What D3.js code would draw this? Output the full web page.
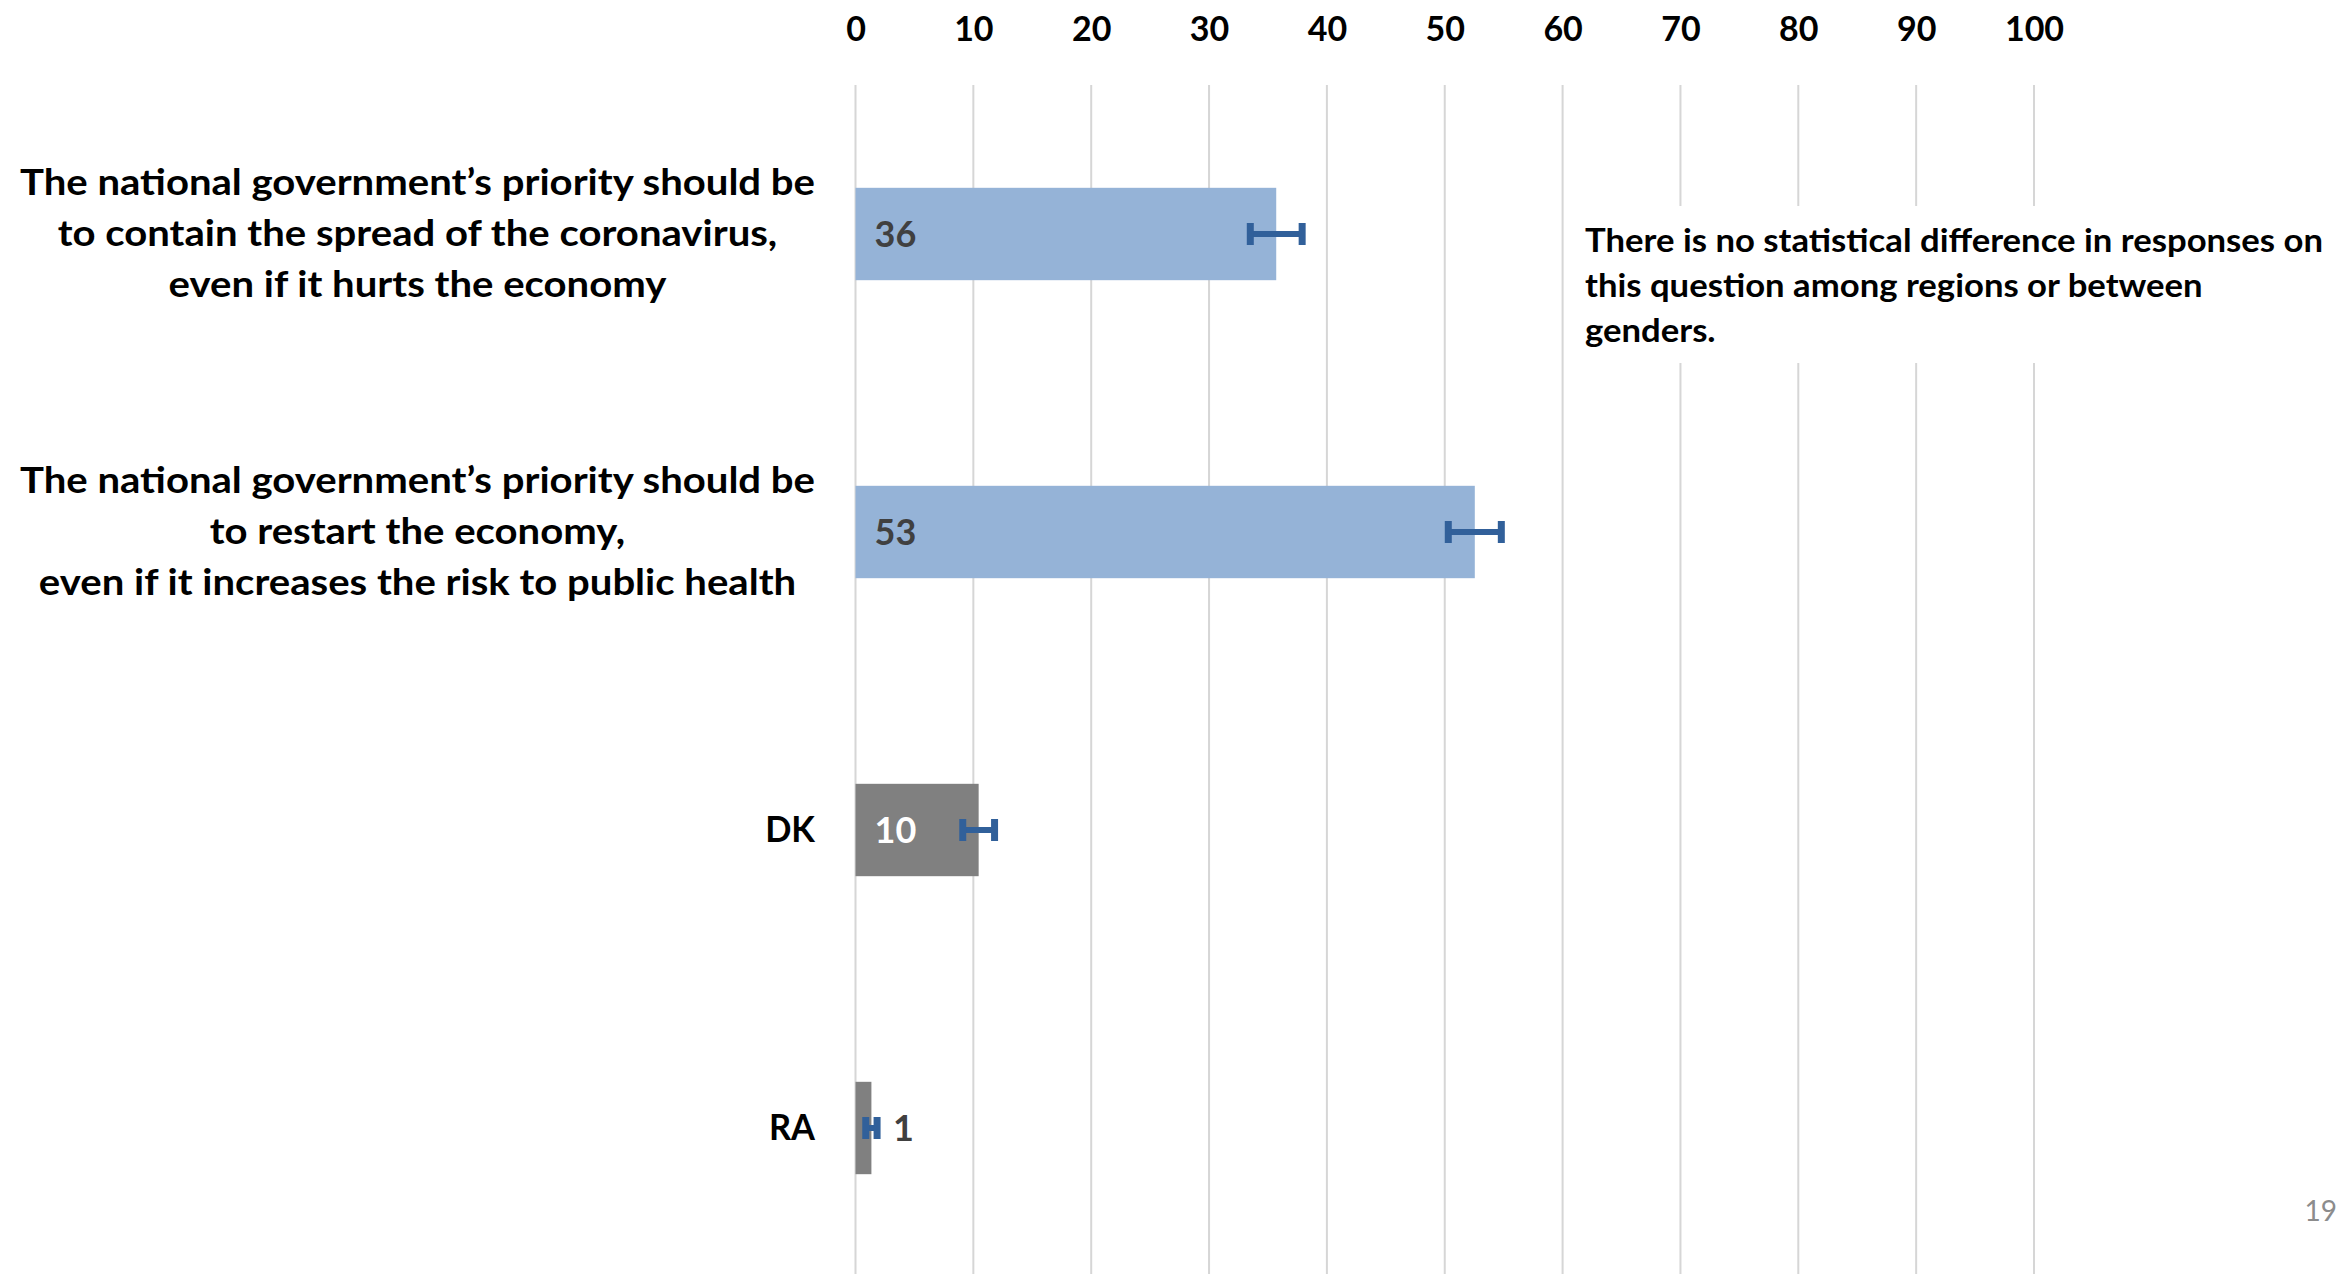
<!DOCTYPE html>
<html><head><meta charset="utf-8">
<script src="https://cdn.jsdelivr.net/npm/d3@7"></script>
<style>
html,body{margin:0;padding:0;background:#fff;}
svg{display:block;font-family:Lato,"Open Sans",sans-serif;}
</style>
</head><body>
<svg id="chart"></svg>
<script>
// ---------------- data ----------------
const categories = ["contain", "restart", "DK", "RA"];
const categoryLabels = [
  ["The national government’s priority should be", "to contain the spread of the coronavirus,", "even if it hurts the economy"],
  ["The national government’s priority should be", "to restart the economy,", "even if it increases the risk to public health"],
  ["DK"],
  ["RA"]
];
const values = [35.7, 52.55, 10.45, 1.35];
const valueLabels = ["36", "53", "10", "1"];
const errors = [2.2, 2.25, 1.35, 0.48];
const groups = ["answer", "answer", "other", "other"];
const xTicks = [0, 10, 20, 30, 40, 50, 60, 70, 80, 90, 100];
const noteLines = [
  "There is no statistical difference in responses on",
  "this question among regions or between",
  "genders."
];
const pageNumber = "19";

// ---------------- layout ----------------
const W = 2351, H = 1274;
const svg = d3.select("#chart").attr("width", W).attr("height", H);
svg.append("rect").attr("width", W).attr("height", H).attr("fill", "#fff");

const x = d3.scaleLinear().domain([0, 100]).range([855.5, 2034]);
const y = d3.scaleBand().domain(categories).range([85, 1277]).paddingInner(0.69).paddingOuter(0.345);
const color = d3.scaleOrdinal().domain(["answer", "other"]).range(["#95b3d7", "#808080"]);
const labelColor = d3.scaleOrdinal().domain(["answer", "other"]).range(["#404040", "#ffffff"]);
const errColor = "#31609a";

const rows = categories.map((c, i) => ({
  c, lines: categoryLabels[i], v: values[i], lab: valueLabels[i], e: errors[i], g: groups[i]
}));

// gridlines
svg.append("g").selectAll("line").data(xTicks).join("line")
  .attr("x1", d => x(d)).attr("x2", d => x(d))
  .attr("y1", 85).attr("y2", H)
  .attr("stroke", "#d6d6d6").attr("stroke-width", 2);

// white box behind note
svg.append("rect").attr("x", 1572).attr("y", 206).attr("width", 775).attr("height", 157).attr("fill", "#fff");

// top axis labels
const ax = svg.append("g").attr("transform", "translate(0,41)")
  .call(d3.axisTop(x).tickValues(xTicks).tickSize(0).tickPadding(0));
ax.select(".domain").remove();
ax.attr("font-family", "Lato, 'Open Sans', sans-serif").attr("font-size", 34).attr("font-weight", 700);
ax.selectAll("text").attr("fill", "#000");

// bars
svg.append("g").selectAll("rect").data(rows).join("rect")
  .attr("x", x(0)).attr("y", d => y(d.c))
  .attr("width", d => x(d.v) - x(0)).attr("height", y.bandwidth())
  .attr("fill", d => color(d.g));

// error bars
const eg = svg.append("g").selectAll("g").data(rows).join("g");
eg.append("line")
  .attr("x1", d => x(d.v - d.e)).attr("x2", d => x(d.v + d.e))
  .attr("y1", d => y(d.c) + y.bandwidth() / 2).attr("y2", d => y(d.c) + y.bandwidth() / 2)
  .attr("stroke", errColor).attr("stroke-width", 6);
[-1, 1].forEach(s => {
  eg.append("rect")
    .attr("x", d => x(d.v + s * d.e) - 3.5).attr("y", d => y(d.c) + y.bandwidth() / 2 - 11)
    .attr("width", 7).attr("height", 22).attr("fill", errColor);
});

// value labels
svg.append("g").selectAll("text").data(rows).join("text")
  .attr("x", d => (x(d.v) - x(0) > 80) ? x(0) + 19 : x(d.v + d.e) + 16)
  .attr("y", d => y(d.c) + y.bandwidth() / 2 + 13)
  .attr("font-size", 36).attr("font-weight", 700)
  .attr("fill", d => (x(d.v) - x(0) > 80) ? labelColor(d.g) : "#404040")
  .text(d => d.lab);

// category labels (multi-line, centred block right-aligned to the axis)
const catG = svg.append("g").attr("font-size", 36).attr("font-weight", 700).attr("fill", "#000");
const probe = catG.append("text").text(categoryLabels[0][0]);
const kCat = 795 / probe.node().getComputedTextLength();
probe.remove();
const labelRight = 815, lineGap = 51;
rows.forEach(r => {
  const cy = y(r.c) + y.bandwidth() / 2;
  const n = r.lines.length;
  const k = n > 1 ? kCat : kCat * 0.86;
  const texts = r.lines.map((ln, i) => catG.append("text")
    .attr("y", cy + 12 + (i - (n - 1) / 2) * lineGap)
    .attr("text-anchor", "middle")
    .text(ln));
  const widths = texts.map(t => t.node().getComputedTextLength() * k);
  const bw = d3.max(widths);
  texts.forEach((t, i) => {
    t.attr("x", labelRight - bw / 2)
     .attr("textLength", widths[i]).attr("lengthAdjust", "spacingAndGlyphs");
  });
});

// note
const noteG = svg.append("g").attr("font-size", 31.5).attr("font-weight", 700).attr("fill", "#000");
const probe2 = noteG.append("text").text(noteLines[0]);
const kNote = 738 / probe2.node().getComputedTextLength();
probe2.remove();
noteLines.forEach((ln, i) => {
  const t = noteG.append("text").attr("x", 1585).attr("y", 251.7 + i * 45).text(ln);
  t.attr("textLength", t.node().getComputedTextLength() * kNote).attr("lengthAdjust", "spacingAndGlyphs");
});

// page number
svg.append("text").attr("x", 2337).attr("y", 1221).attr("text-anchor", "end")
  .attr("font-size", 28).attr("fill", "#8c8c8c").text(pageNumber);
</script>
</body></html>
